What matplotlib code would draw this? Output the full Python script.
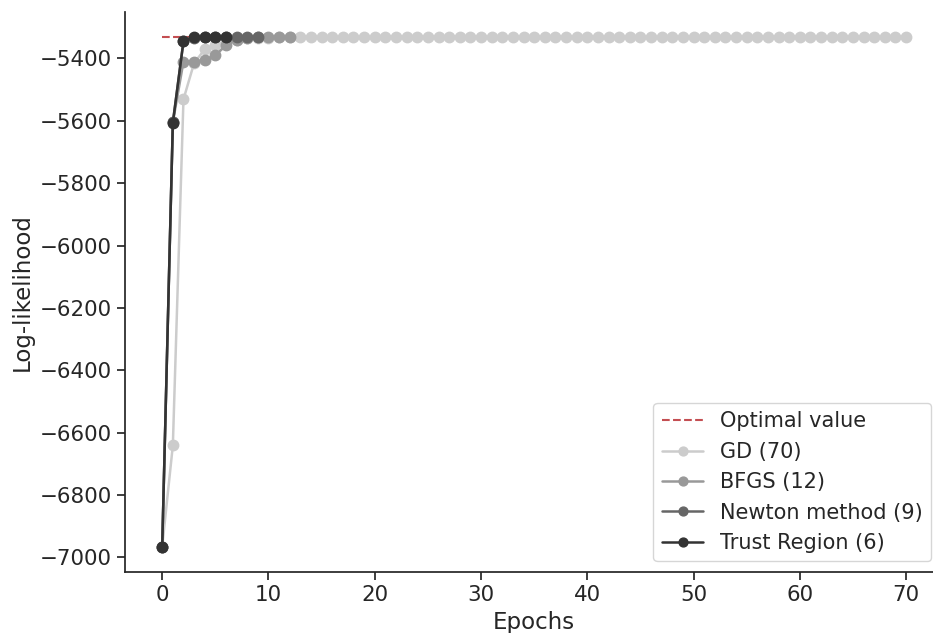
import matplotlib
matplotlib.use("Agg")
import numpy as np
import seaborn as sns
from matplotlib import pyplot as plt

sns.set_style("ticks")
plt.rcParams['font.family'] = ['DejaVu Sans']

optimal_value = -5332

gd_ll = [-6965, -6641, -5531, -5415, -5371, -5358, -5345, -5340, -5336, -5334,
         -5333] + [-5332] * 60
bfgs_ll = [-6965, -5605, -5410, -5410, -5405, -5390, -5358, -5340, -5334,
           -5332, -5332, -5332, -5332]
newton_ll = [-6965, -5605, -5345, -5335, -5332, -5332, -5332, -5332, -5332, -5332]
trust_ll = [-6965, -5607, -5345, -5332, -5332, -5332, -5332]

series = [
    ("GD (70)", gd_ll, "#cccccc"),
    ("BFGS (12)", bfgs_ll, "#999999"),
    ("Newton method (9)", newton_ll, "#666666"),
    ("Trust Region (6)", trust_ll, "#333333"),
]

fig = plt.figure(figsize=(9.33, 6.33), dpi=100)
ax = fig.add_axes([0.134, 0.0964, 0.877, 0.885])

ax.plot(np.arange(len(gd_ll)), [optimal_value] * len(gd_ll), "--",
        color="#c44e52", lw=1.5, label="Optimal value", zorder=1)
for name, vals, col in series:
    ax.plot(np.arange(len(vals)), vals, "-o", color=col, lw=1.8, ms=7.5,
            label=name, zorder=2)

ax.set_xlabel("Epochs", fontsize=16.5)
ax.set_ylabel("Log-likelihood", fontsize=16.5)
ax.tick_params(labelsize=15.4, length=6, width=1.25)
for s in ax.spines.values():
    s.set_linewidth(1.25)
ax.set_yticks(np.arange(-7000, -5399, 200))
sns.despine(ax=ax)

ax.legend(loc="lower right", bbox_to_anchor=(0.998, 0.113), borderaxespad=0,
          bbox_transform=fig.transFigure, fontsize=15, frameon=True,
          markerscale=0.85)

fig.savefig("out.png", dpi=100)
